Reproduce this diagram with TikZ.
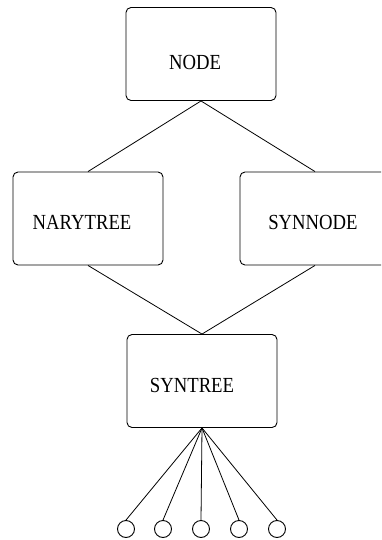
\documentclass[tikz,border=0pt]{standalone}
\usepackage{fontspec}
\setmainfont{Liberation Serif}
\newcommand{\tallname}[1]{\scalebox{1}[1.15]{#1}}
\begin{document}
\begin{tikzpicture}[x=1pt,y=-1pt,
  classbox/.style={draw,line width=0.9pt,rounded corners=5pt,minimum width=150pt,minimum height=93pt,inner sep=0pt},
  classname/.style={font=\fontsize{18.7}{20}\selectfont,inner sep=0pt},
  leaf/.style={draw,line width=0.9pt,circle,minimum size=17pt,inner sep=0pt},
  link/.style={line width=0.8pt}]
\useasboundingbox (0,0) rectangle (381,540);
\clip (0,0) rectangle (381,540);
% class boxes
\node[classbox] (node) at (201,54) {};
\node[classbox] (nary) at (88,218.5) {};
\node[classbox] (synnode) at (315,218.5) {};
\node[classbox] (syntree) at (202,381) {};
% class names
\node[classname] (nodetxt) at (195,62) {\tallname{NODE}};
\node[classname] (narytxt) at (82,222.5) {\tallname{NARYTREE}};
\node[classname] (synnodetxt) at (313,222.5) {\tallname{SYNNODE}};
\node[classname] (syntreetxt) at (192,385) {\tallname{SYNTREE}};
% inheritance lines
\draw[link] (node.south) -- (nary.north);
\draw[link] (node.south) -- (synnode.north);
\draw[link] (nary.south) -- (syntree.north);
\draw[link] (synnode.south) -- (syntree.north);
% children of SYNTREE
\foreach \i/\x in {1/126,2/163,3/201,4/239,5/277}{
  \node[leaf] (leaf\i) at (\x,529) {};
  \draw[link] (syntree.south) -- (leaf\i.north);
}
\end{tikzpicture}
\end{document}
